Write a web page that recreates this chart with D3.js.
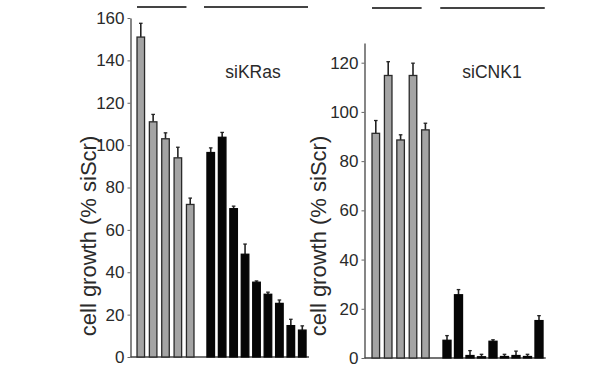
<!DOCTYPE html>
<html>
<head>
<meta charset="utf-8">
<script src="https://cdn.jsdelivr.net/npm/d3@7/dist/d3.min.js"></script>
<style>
html,body{margin:0;padding:0;background:#fff;}
svg{display:block;}
text{font-family:"Liberation Sans",Arial,sans-serif;fill:#2a2a2a;}
</style>
</head>
<body>
<svg id="chart" width="604" height="372"></svg>
<script>
// ---- data ----
const leftTicks = [0, 20, 40, 60, 80, 100, 120, 140, 160];
const rightTicks = [0, 20, 40, 60, 80, 100, 120];
const leftGrayVals = [151, 111, 103, 94, 72];
const leftGrayErr = [6.5, 3.5, 2.8, 5, 3];
const leftBlackVals = [96.5, 103.7, 70, 48.5, 35.3, 29.6, 25.3, 14.8, 12.7];
const leftBlackErr = [2.2, 2.3, 1.2, 4.8, 0.6, 1, 1.6, 3, 2];
const rightGrayVals = [91.3, 114.8, 88.6, 114.8, 92.7];
const rightGrayErr = [5.2, 5.6, 2.1, 5, 2.7];
const rightBlackVals = [7.2, 25.7, 1, 0.5, 6.8, 0.6, 1, 0.6, 15.2];
const rightBlackErr = [1.9, 2.1, 2, 1, 0.6, 0.9, 1.8, 0.9, 2];
const panelLabels = ["siKRas", "siCNK1"];
const yTitle = "cell growth (% siScr)";

const svg = d3.select("#chart");

function panel(cfg) {
  const g = svg.append("g");
  const y = d3.scaleLinear().domain([0, cfg.yMax]).range(cfg.yRange);
  const xg = d3.scaleBand().domain(d3.range(cfg.gray.length)).range(cfg.grayRange)
    .paddingInner(cfg.grayPad).paddingOuter(cfg.grayPad / 2);
  const xb = d3.scaleBand().domain(d3.range(cfg.black.length)).range(cfg.blackRange)
    .paddingInner(cfg.blackPad).paddingOuter(cfg.blackPad / 2);

  // y axis
  const ax = g.append("g").attr("transform", `translate(${cfg.axisX},0)`)
    .call(d3.axisLeft(y).tickValues(cfg.ticks).tickSize(3).tickSizeOuter(0).tickPadding(3));
  ax.select(".domain").attr("stroke", "#444").attr("stroke-width", 1.3);
  ax.selectAll(".tick line").attr("stroke", "#666").attr("stroke-width", 1);
  ax.selectAll(".tick text").attr("font-size", 17).attr("fill", "#2a2a2a")
    .attr("font-family", "Liberation Sans, Arial, sans-serif");

  // x baseline
  g.append("line").attr("x1", cfg.axisX).attr("x2", cfg.blackRange[1] + 1)
    .attr("y1", y(0)).attr("y2", y(0)).attr("stroke", "#444").attr("stroke-width", 1.5);

  function bars(vals, errs, x, fill, stroke) {
    const bg = g.append("g");
    bg.selectAll("line.err").data(vals).join("line").attr("class", "err")
      .attr("x1", (d, i) => x(i) + x.bandwidth() / 2)
      .attr("x2", (d, i) => x(i) + x.bandwidth() / 2)
      .attr("y1", d => y(d)).attr("y2", (d, i) => y(d + errs[i]))
      .attr("stroke", "#222").attr("stroke-width", 1.6);
    bg.selectAll("line.cap").data(vals).join("line").attr("class", "cap")
      .attr("x1", (d, i) => x(i) + x.bandwidth() / 2 - 1.8)
      .attr("x2", (d, i) => x(i) + x.bandwidth() / 2 + 1.8)
      .attr("y1", (d, i) => y(d + errs[i])).attr("y2", (d, i) => y(d + errs[i]))
      .attr("stroke", "#222").attr("stroke-width", 1.3);
    bg.selectAll("rect").data(vals).join("rect")
      .attr("x", (d, i) => x(i)).attr("width", x.bandwidth())
      .attr("y", d => y(d)).attr("height", d => y(0) - y(d))
      .attr("fill", fill).attr("stroke", stroke).attr("stroke-width", 1.3);
  }
  bars(cfg.gray, cfg.grayErr, xg, "#a4a4a4", "#2a2a2a");
  bars(cfg.black, cfg.blackErr, xb, "#060606", "#060606");

  // group lines
  g.append("line").attr("x1", xg(0)).attr("x2", xg(cfg.gray.length - 1))
    .attr("y1", cfg.lineY).attr("y2", cfg.lineY).attr("stroke", "#444").attr("stroke-width", 2);
  g.append("line").attr("x1", cfg.blackRange[0] - 1).attr("x2", cfg.blackRange[1])
    .attr("y1", cfg.lineY).attr("y2", cfg.lineY).attr("stroke", "#444").attr("stroke-width", 2);

  // label
  g.append("text").attr("x", cfg.labelX).attr("y", 78).attr("text-anchor", "middle")
    .attr("font-size", 17.5).text(cfg.label);

  // y title
  g.append("text").attr("transform", `translate(${cfg.titleX},236) rotate(-90)`)
    .attr("text-anchor", "middle").attr("dominant-baseline", "central")
    .attr("font-size", 22).attr("fill", "#333").text(yTitle);
}

panel({
  yMax: 160, yRange: [357, 18], ticks: leftTicks, axisX: 130.5,
  gray: leftGrayVals, grayErr: leftGrayErr, grayRange: [134.6, 196.4], grayPad: 0.39,
  black: leftBlackVals, blackErr: leftBlackErr, blackRange: [205, 308], blackPad: 0.34,
  lineY: 7, label: panelLabels[0], labelX: 253, titleX: 88
});
panel({
  yMax: 128, yRange: [358, 43], ticks: rightTicks, axisX: 364.5,
  gray: rightGrayVals, grayErr: rightGrayErr, grayRange: [369.6, 431.6], grayPad: 0.39,
  black: rightBlackVals, blackErr: rightBlackErr, blackRange: [441.25, 544.75], blackPad: 0.3,
  lineY: 8, label: panelLabels[1], labelX: 492, titleX: 318
});
</script>
</body>
</html>
